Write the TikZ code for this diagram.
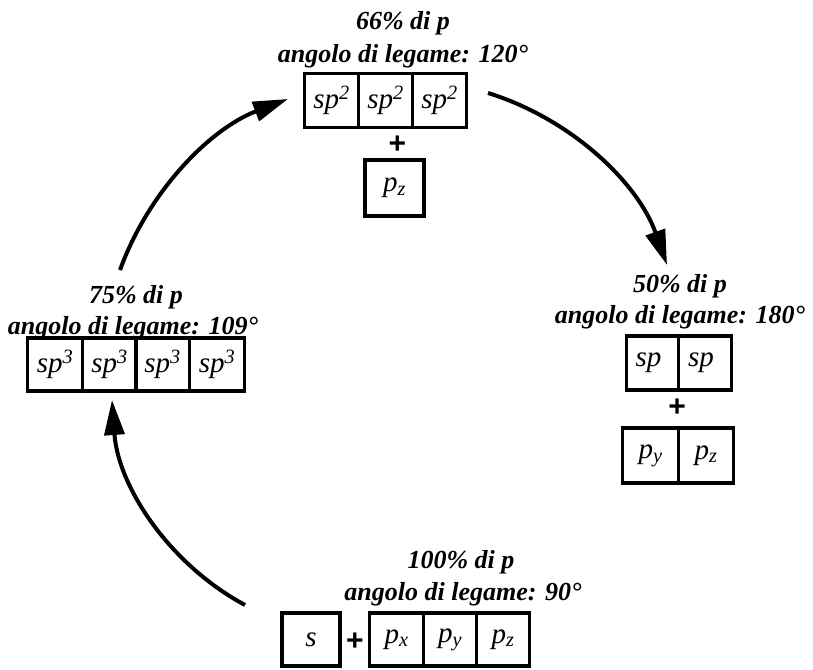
\documentclass[tikz,border=0pt]{standalone}
\usepackage{fontspec}
\setmainfont{Liberation Serif}
\newfontfamily\plusfont{Liberation Sans}
\usetikzlibrary{arrows.meta}

\tikzset{
  titletext/.style={anchor=base, inner sep=0pt,
    font=\bfseries\itshape\fontsize{26}{30}\selectfont},
  orbital/.style={draw, line width=3.3pt, inner sep=0pt,
    minimum width=54pt, minimum height=54pt,
    font=\itshape\fontsize{29}{32}\selectfont},
  plussign/.style={inner sep=0pt, font=\plusfont\bfseries\fontsize{30}{32}\selectfont},
  cyclearrow/.style={line width=4pt, -{Triangle[length=35pt,width=20pt]}}
}

\newcommand{\orbsup}[2]{#1\textsuperscript{#2}}
\newcommand{\orbsub}[2]{#1\textsubscript{#2}}

\begin{document}
\begin{tikzpicture}[x=1pt,y=-1pt]
\useasboundingbox (0,0) rectangle (813,669);

% sp2 hybridisation (top)
\node[titletext] (t1a) at (403,30) {66\% di p};
\node[titletext] (t1b) at (403,63) {angolo di legame: 120°};
\node[orbital] (a1) at (331.5,100.5) {\orbsup{sp}{2}};
\node[orbital] (a2) at (385.5,100.5) {\orbsup{sp}{2}};
\node[orbital] (a3) at (439.5,100.5) {\orbsup{sp}{2}};
\node[plussign] (ap) at (397.5,145) {+};
\node[orbital, minimum width=59pt, minimum height=56pt] (a4) at (394.5,188) {\orbsub{p}{z}};

% sp hybridisation (right)
\node[titletext] (t2a) at (680,292) {50\% di p};
\node[titletext] (t2b) at (680,323) {angolo di legame: 180°};
\node[orbital, minimum width=52.5pt] (b1) at (652.5,363) {\hspace*{-8pt}sp};
\node[orbital, minimum width=52.5pt] (b2) at (705,363) {\hspace*{-8pt}sp};
\node[plussign] (bp) at (677,408) {+};
\node[orbital, minimum width=55.5pt, minimum height=55pt] (b3) at (650.5,455.5) {\orbsub{p}{y}};
\node[orbital, minimum width=55.5pt, minimum height=55pt] (b4) at (706,455.5) {\orbsub{p}{z}};

% unhybridised orbitals (bottom)
\node[titletext] (t3a) at (461,568) {100\% di p};
\node[titletext] (t3b) at (463,600) {angolo di legame: 90°};
\node[orbital, minimum width=58pt, minimum height=53pt] (c1) at (311,639.5) {s};
\node[plussign] (cp) at (355,642) {+};
\node[orbital, minimum width=53.5pt, minimum height=53pt] (c2) at (396.5,639.5) {\orbsub{p}{x}};
\node[orbital, minimum width=53.5pt, minimum height=53pt] (c3) at (450,639.5) {\orbsub{p}{y}};
\node[orbital, minimum width=53.5pt, minimum height=53pt] (c4) at (503,639.5) {\orbsub{p}{z}};

% sp3 hybridisation (left)
\node[titletext] (t4a) at (136,303) {75\% di p};
\node[titletext] (t4b) at (133,334) {angolo di legame: 109°};
\node[orbital, minimum width=54.5pt, minimum height=53pt] (d1) at (55,364.5) {\orbsup{sp}{3}};
\node[orbital, minimum width=54.5pt, minimum height=53pt] (d2) at (109.5,364.5) {\orbsup{sp}{3}};
\node[orbital, minimum width=54.5pt, minimum height=53pt] (d3) at (162.5,364.5) {\orbsup{sp}{3}};
\node[orbital, minimum width=54.5pt, minimum height=53pt] (d4) at (217,364.5) {\orbsup{sp}{3}};

% cycle arrows (circular arcs as cubic curves)
\coordinate (r1s) at (245,605);
\coordinate (r1e) at (112,400);
\coordinate (r2s) at (120,270);
\coordinate (r2e) at (288,99);
\coordinate (r3s) at (488,93);
\coordinate (r3e) at (667,265);

\draw[cyclearrow] (r1s) .. controls (168.8,564) and (118.2,486.4) .. (r1e);
\draw[cyclearrow] (r2s) .. controls (148.6,191.3) and (209.8,129) .. (r2e);
\draw[cyclearrow] (r3s) .. controls (571.4,118.9) and (637.8,182.8) .. (r3e);
\end{tikzpicture}
\end{document}
